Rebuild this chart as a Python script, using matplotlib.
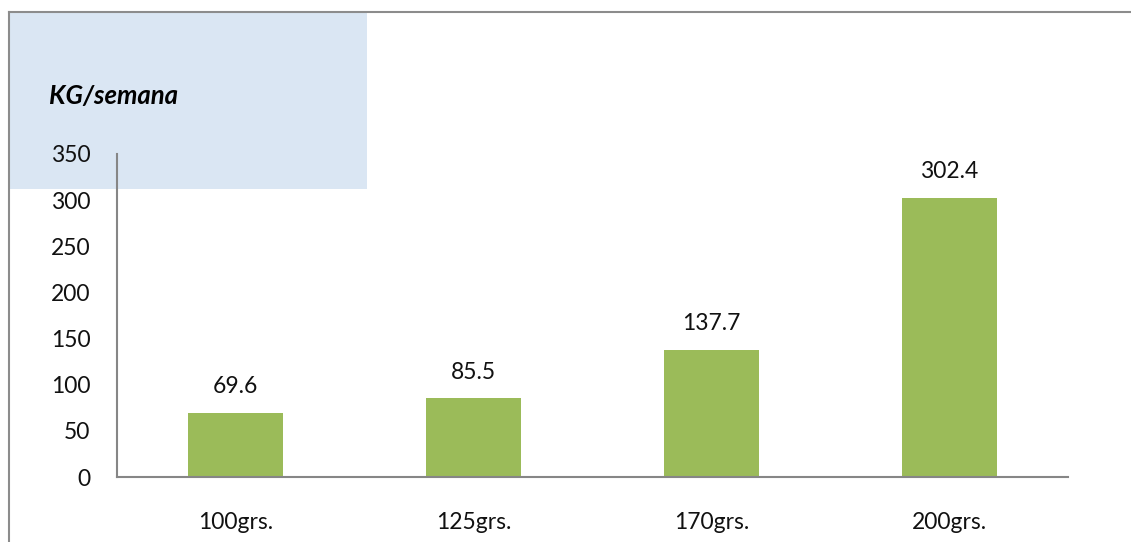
import matplotlib
matplotlib.use("Agg")
import matplotlib.pyplot as plt
from matplotlib.patches import Rectangle
from matplotlib.lines import Line2D

# weekly kg by portion size
categories = ["100grs.", "125grs.", "170grs.", "200grs."]
kg_semana = [69.6, 85.5, 137.7, 302.4]
y_ticks = [0, 50, 100, 150, 200, 250, 300, 350]

BAR_COLOR = "#9BBB59"
AXIS_COLOR = "#868686"
FS = 16.5

plt.rcParams["font.family"] = ["Lato", "DejaVu Sans"]

fig = plt.figure(figsize=(11.31, 5.42), dpi=100)
W, H = 1131, 542

def fx(px):
    return px / W

def fy(py):
    return 1 - py / H

# light blue panel behind the unit label
fig.patches.append(Rectangle((fx(9), fy(189)), fx(367) - fx(9), fy(12) - fy(189),
                             transform=fig.transFigure, facecolor="#DAE6F3",
                             edgecolor="none", zorder=0))

# outer frame, only left and top edges visible
fig.lines.append(Line2D([fx(9), fx(9)], [fy(12), 0], transform=fig.transFigure,
                        color="#8C8C8C", lw=1.5))
fig.lines.append(Line2D([fx(9), 1], [fy(12), fy(12)], transform=fig.transFigure,
                        color="#8C8C8C", lw=1.5))

ax = fig.add_axes([fx(117), fy(477), fx(1068) - fx(117), fy(154) - fy(477)])
ax.patch.set_visible(False)
ax.set_zorder(2)

x = range(len(categories))
bars = ax.bar(x, kg_semana, width=0.4, color=BAR_COLOR, zorder=2)

for b, v in zip(bars, kg_semana):
    ax.annotate(f"{v}", (b.get_x() + b.get_width() / 2, v), xytext=(0, 14),
                textcoords="offset points", ha="center", va="baseline",
                fontsize=FS, color="#111111")

ax.set_xlim(-0.5, len(categories) - 0.5)
ax.set_ylim(0, 350)
ax.set_xticks(list(x))
ax.set_xticklabels(categories)
ax.set_yticks(y_ticks)
ax.tick_params(axis="both", length=0, labelsize=FS, labelcolor="#111111")
ax.tick_params(axis="x", pad=25)
ax.tick_params(axis="y", pad=19)

for side in ["top", "right"]:
    ax.spines[side].set_visible(False)
for side in ["left", "bottom"]:
    ax.spines[side].set_color(AXIS_COLOR)
    ax.spines[side].set_linewidth(1.5)

fig.text(fx(49), fy(104), "KG/semana", fontsize=18.5, fontweight="bold",
         fontstyle="italic", ha="left", va="baseline", color="#000000",
         zorder=3)

fig.savefig("out.png", dpi=100)
